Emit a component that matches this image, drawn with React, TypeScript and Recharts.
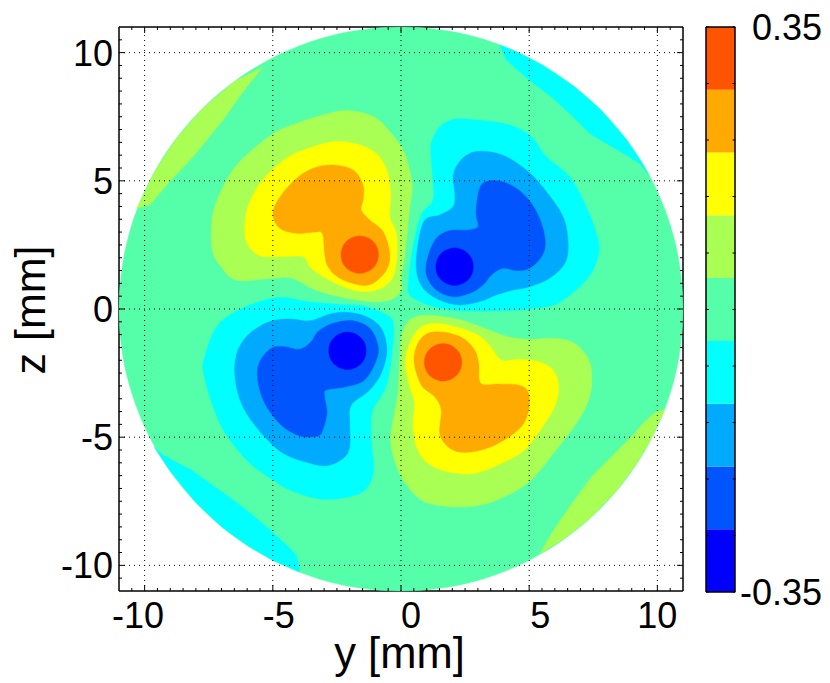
import React from 'react';
import { ComposedChart, ScatterChart, Scatter, XAxis, YAxis, Bar } from 'recharts';

type P = number[];
const c9 = '#FF5500', c8 = '#FFAA00', c7 = '#FFFF00', c6 = '#AAFF55', c5 = '#55FFAA', c4 = '#00FFFF', c3 = '#00AAFF', c2 = '#0055FF', c1 = '#0000FF';

const disc: P[] = [[0,11],[2.85,10.63],[5.5,9.53],[7.78,7.78],[9.53,5.5],[10.63,2.85],[11,0],[10.63,-2.85],[9.53,-5.5],[7.78,-7.78],[5.5,-9.53],[2.85,-10.63],[0,-11],[-2.85,-10.63],[-5.5,-9.53],[-7.78,-7.78],[-9.53,-5.5],[-10.63,-2.85],[-11,0],[-10.63,2.85],[-9.53,5.5],[-7.78,7.78],[-5.5,9.53],[-2.85,10.63]];

const stripUL: P[] = [[-10.3,3.93],[-9.8,4.06],[-9.09,4.9],[-8.11,5.94],[-6.94,7.37],[-6.16,8.48],[-5.38,9.45],[-6.5,8.87],[-7.78,7.78],[-8.8,6.6],[-9.6,5.37]];
const stripUR: P[] = [[3.85,10.3],[4.11,9.71],[4.92,9.0],[5.93,8.22],[6.71,7.5],[7.36,6.85],[8.01,6.46],[8.79,6.01],[9.31,5.68],[9.67,5.24],[9.3,5.85],[8.8,6.6],[7.78,7.78],[6.8,8.64],[5.5,9.52],[4.5,10.03]];
const stripLL: P[] = [[-9.64,-5.37],[-9.28,-5.7],[-8.7,-6.02],[-8.18,-6.28],[-7.46,-6.8],[-6.81,-7.26],[-6.03,-7.84],[-5.25,-8.49],[-4.6,-9.08],[-4.08,-9.6],[-3.95,-10.26],[-5,-9.8],[-6,-9.22],[-7,-8.49],[-8,-7.55],[-9,-6.33]];
const stripLR: P[] = [[10.29,-3.92],[9.96,-4.0],[9.44,-4.46],[8.99,-4.98],[8.27,-5.7],[7.43,-6.54],[6.58,-7.71],[6.13,-8.36],[5.73,-9.01],[5.41,-9.55],[6.4,-8.94],[7.4,-8.13],[8.4,-7.1],[9.2,-6.02],[9.8,-5.0]];

const ulGreen: P[] = [[-7.4,2.82],[-7.34,3.73],[-6.94,4.77],[-6.29,5.75],[-5.06,6.79],[-4.08,7.24],[-2.52,7.7],[-1.74,7.7],[-0.96,7.44],[-0.44,6.92],[0.01,6.33],[0.27,5.68],[0.44,4.77],[0.34,3.99],[0.24,2.95],[0.14,2.04],[0.01,1.26],[0,0.7],[-0.44,0.35],[-1.22,0.29],[-2.43,0.48],[-3.34,0.74],[-4.25,1.2],[-5,1.2],[-6.43,1.13],[-7.07,1.72],[-7.33,2.17]];
const ulYellow: P[] = [[-6.1,3.08],[-5.97,3.99],[-5.45,4.97],[-4.47,5.88],[-3.43,6.33],[-2.52,6.53],[-1.61,6.4],[-0.9,6.01],[-0.51,5.29],[-0.4,4.38],[-0.44,3.6],[-0.18,2.95],[-0.16,2.04],[-0.31,1.26],[-0.77,0.81],[-1.48,0.68],[-2.26,0.87],[-3.04,1.26],[-3.56,1.65],[-3.82,2.04],[-4.73,2.04],[-5.52,2.08],[-5.97,2.5]];
const ulOrange: P[] = [[-4.99,3.67],[-4.8,4.25],[-4.15,5.03],[-3.43,5.49],[-2.65,5.62],[-1.87,5.42],[-1.48,4.84],[-1.48,4.25],[-1.55,3.86],[-1.22,3.47],[-0.7,3.02],[-0.44,2.17],[-0.57,1.52],[-1.09,1.0],[-1.61,0.94],[-2.39,1.2],[-2.85,1.65],[-2.98,2.17],[-3.07,2.95],[-3.43,2.99],[-4.08,2.95],[-4.73,3.15]];
const ulRed: P[] = [[-1.61,2.85],[-1.24,2.75],[-0.97,2.48],[-0.88,2.12],[-0.97,1.76],[-1.24,1.49],[-1.61,1.39],[-1.98,1.49],[-2.25,1.76],[-2.34,2.12],[-2.25,2.48],[-1.98,2.75]];

const urCyan: P[] = [[1.18,6.46],[1.51,7.11],[2.09,7.4],[2.94,7.37],[4.24,7.18],[5.09,6.72],[5.67,5.94],[6.58,5.16],[7.23,3.99],[7.62,2.95],[7.73,2.3],[7.49,1.52],[6.97,0.87],[6.06,0.2],[5.02,0],[3.85,-0.07],[2.55,-0.07],[1.51,0.03],[0.73,0.29],[0.31,0.61],[0.31,1.26],[0.47,2.43],[0.79,3.67],[1.18,4.12],[1.28,4.51],[1.22,5.29],[1.18,5.94]];
const urLight: P[] = [[2.03,5.16],[2.23,5.68],[2.68,6.07],[3.33,6.14],[4.11,5.94],[4.96,5.36],[5.62,4.64],[6.32,3.6],[6.52,2.56],[6.39,1.78],[5.8,1.2],[5.02,0.87],[4.37,0.74],[3.72,0.55],[3.07,0.29],[2.29,0.16],[1.51,0.35],[0.86,0.81],[0.6,1.52],[0.67,2.56],[0.93,3.47],[1.51,3.67],[2.03,3.99],[2.1,4.51]];
const urBlue: P[] = [[2.94,3.99],[3.07,4.71],[3.33,4.97],[3.85,4.99],[4.5,4.71],[5.09,4.12],[5.48,3.34],[5.63,2.56],[5.48,2.04],[5.02,1.59],[4.5,1.5],[3.98,1.59],[3.53,1.33],[3.2,0.94],[2.68,0.61],[2.03,0.48],[1.38,0.74],[0.99,1.33],[1.05,2.04],[1.38,2.76],[1.9,3.06],[2.62,3.08],[3.0,3.21],[2.94,3.6]];
const urDark: P[] = [[2.09,2.38],[2.46,2.28],[2.73,2.01],[2.82,1.65],[2.73,1.29],[2.46,1.02],[2.09,0.92],[1.72,1.02],[1.45,1.29],[1.36,1.65],[1.45,2.01],[1.72,2.28]];

const llCyan: P[] = [[-7.72,-2.38],[-7.66,-1.86],[-7.27,-0.82],[-6.68,-0.23],[-5.51,0.29],[-4.6,0.45],[-3.69,0.29],[-2.39,0.18],[-1.35,0.09],[-0.44,-0.3],[-0.29,-0.75],[-0.31,-1.34],[-0.44,-2.38],[-0.64,-3.16],[-1.12,-4.01],[-1.16,-5.11],[-1.07,-6.28],[-1.35,-7.0],[-2.0,-7.32],[-3.17,-7.41],[-4.34,-7.06],[-4.99,-6.67],[-5.9,-6.02],[-6.62,-5.18],[-7.07,-4.46],[-7.46,-3.42]];
const llLight: P[] = [[-6.49,-2.38],[-6.36,-1.6],[-5.9,-0.95],[-5.12,-0.49],[-4.34,-0.39],[-3.56,-0.46],[-2.78,-0.2],[-2.13,-0.13],[-1.35,-0.3],[-0.77,-0.75],[-0.55,-1.6],[-0.77,-2.51],[-1.22,-3.16],[-1.94,-3.75],[-2.0,-4.46],[-2.0,-5.37],[-2.26,-5.83],[-2.91,-6.11],[-3.69,-5.98],[-4.6,-5.63],[-5.38,-4.92],[-6.03,-4.07],[-6.36,-3.29]];
const llBlue: P[] = [[-5.6,-2.64],[-5.51,-2.05],[-5.06,-1.53],[-4.54,-1.47],[-3.95,-1.57],[-3.5,-1.27],[-3.24,-0.88],[-2.65,-0.56],[-1.87,-0.46],[-1.22,-0.75],[-0.9,-1.4],[-0.96,-1.99],[-1.42,-2.77],[-2.13,-3.03],[-2.91,-3.16],[-2.98,-3.42],[-2.89,-4.07],[-3.11,-4.85],[-3.43,-4.98],[-3.95,-4.95],[-4.6,-4.59],[-5.12,-4.0],[-5.45,-3.35]];
const llDark: P[] = [[-2.09,-0.9],[-1.72,-1.0],[-1.45,-1.27],[-1.36,-1.63],[-1.45,-1.99],[-1.72,-2.26],[-2.09,-2.36],[-2.46,-2.26],[-2.73,-1.99],[-2.82,-1.63],[-2.73,-1.27],[-2.46,-1.0]];

const lrGreen: P[] = [[0.27,-0.49],[0.73,-0.27],[1.44,-0.27],[2.35,-0.43],[3.26,-0.75],[4.17,-1.08],[5.02,-1.18],[5.86,-1.14],[6.64,-1.27],[7.17,-1.73],[7.43,-2.38],[7.36,-3.42],[6.84,-4.46],[5.99,-5.57],[5.08,-6.67],[4.17,-7.26],[3.13,-7.65],[1.96,-7.71],[0.92,-7.52],[0.27,-6.93],[-0.12,-6.28],[-0.4,-5.24],[-0.31,-4.33],[-0.12,-3.29],[-0.05,-1.99],[0.01,-1.08]];
const lrYellow: P[] = [[0.17,-2.12],[0.34,-1.34],[0.73,-0.75],[1.31,-0.56],[2.09,-0.69],[2.87,-0.95],[3.39,-1.34],[3.91,-1.99],[4.56,-1.96],[5.34,-2.05],[5.93,-2.38],[6.15,-3.03],[5.99,-3.81],[5.47,-4.66],[4.82,-5.5],[3.91,-6.02],[2.87,-6.41],[1.83,-6.35],[1.05,-6.02],[0.6,-5.37],[0.47,-4.46],[0.53,-3.68],[0.34,-3.03]];
const lrOrange: P[] = [[0.51,-2.05],[0.66,-1.34],[1.05,-0.95],[1.7,-0.91],[2.42,-1.14],[2.87,-1.6],[3.03,-2.12],[3.11,-2.9],[3.78,-2.93],[4.56,-2.96],[4.95,-3.22],[4.98,-3.94],[4.69,-4.59],[3.91,-5.18],[3.13,-5.5],[2.35,-5.59],[1.83,-5.37],[1.51,-4.85],[1.57,-3.94],[1.31,-3.42],[0.79,-2.96]];
const lrRed: P[] = [[1.64,-1.35],[2.01,-1.45],[2.28,-1.72],[2.37,-2.08],[2.28,-2.44],[2.01,-2.71],[1.64,-2.81],[1.27,-2.71],[1.0,-2.44],[0.91,-2.08],[1.0,-1.72],[1.27,-1.45]];

const regions: [P[], string, boolean][] = [
  [disc, c5, true],
  [stripUL, c6, false], [stripUR, c4, false], [stripLL, c4, false], [stripLR, c6, false],
  [ulGreen, c6, true], [ulYellow, c7, true], [ulOrange, c8, true], [ulRed, c9, true],
  [urCyan, c4, true], [urLight, c3, true], [urBlue, c2, true], [urDark, c1, true],
  [llCyan, c4, true], [llLight, c3, true], [llBlue, c2, true], [llDark, c1, true],
  [lrGreen, c6, true], [lrYellow, c7, true], [lrOrange, c8, true], [lrRed, c9, true],
];

const axisLimit = 11;
const majorTicks = [-10, -5, 0, 5, 10];
const allTicks = [-10.5,-10,-9.5,-9,-8.5,-8,-7.5,-7,-6.5,-6,-5.5,-5,-4.5,-4,-3.5,-3,-2.5,-2,-1.5,-1,-0.5,0,0.5,1,1.5,2,2.5,3,3.5,4,4.5,5,5.5,6,6.5,7,7.5,8,8.5,9,9.5,10,10.5];
const bandColors = [c1, c2, c3, c4, c5, c6, c7, c8, c9];
const barTicks = [0, 0.07, 0.14, 0.21, 0.28, 0.35, 0.42, 0.49, 0.56, 0.63, 0.7];
const barRow: Record<string, number | string> = { name: 'scale' };
bandColors.forEach((_, i) => { barRow['b' + i] = 0.7 / 9; });

const FONT = '"Liberation Sans", Arial, sans-serif';
const FS = 36;
const xLabelShift: Record<number, number> = { [-10]: -6.5, [-5]: 6, 0: 10, 5: 11, 10: 0 };

function smoothPath(pts: { x: number; y: number }[], smooth: boolean) {
  const n = pts.length;
  if (!n) return '';
  let d = `M${pts[0].x},${pts[0].y}`;
  for (let i = 0; i < n; i++) {
    const p0 = pts[(i - 1 + n) % n], p1 = pts[i], p2 = pts[(i + 1) % n], p3 = pts[(i + 2) % n];
    if (!smooth) { d += `L${p2.x},${p2.y}`; continue; }
    d += `C${p1.x + (p2.x - p0.x) / 6},${p1.y + (p2.y - p0.y) / 6} ${p2.x - (p3.x - p1.x) / 6},${p2.y - (p3.y - p1.y) / 6} ${p2.x},${p2.y}`;
  }
  return d + 'Z';
}

const isMajor = (v: number) => majorTicks.includes(v);

const bottomTick = (p: any) => {
  const m = isMajor(p.payload.value);
  return <g>
    <line x1={p.x} x2={p.x} y1={p.y} y2={p.y - (m ? 6 : 3)} stroke="#000" strokeWidth={1} />
    {m && <text x={p.x + xLabelShift[p.payload.value]} y={p.y + 37} textAnchor="middle" fontFamily={FONT} fontSize={FS} fill="#000">{p.payload.value}</text>}
  </g>;
};
const topTick = (p: any) => <line x1={p.x} x2={p.x} y1={p.y} y2={p.y + (isMajor(p.payload.value) ? 6 : 3)} stroke="#000" strokeWidth={1} />;
const leftTick = (p: any) => {
  const m = isMajor(p.payload.value);
  return <g>
    <line x1={p.x} x2={p.x + (m ? 6 : 3)} y1={p.y} y2={p.y} stroke="#000" strokeWidth={1} />
    {m && <text x={p.x - 6} y={p.y + 13} textAnchor="end" fontFamily={FONT} fontSize={FS} fill="#000">{p.payload.value}</text>}
  </g>;
};
const rightTick = (p: any) => <line x1={p.x} x2={p.x - (isMajor(p.payload.value) ? 6 : 3)} y1={p.y} y2={p.y} stroke="#000" strokeWidth={1} />;

const barTick = (p: any) => {
  const v = p.payload.value;
  const end = v === barTicks[0] || v === barTicks[barTicks.length - 1];
  return <g>
    <line x1={p.x} x2={p.x + 3} y1={p.y} y2={p.y} stroke="#000" />
    <line x1={p.x + 29.5} x2={p.x + 26.5} y1={p.y} y2={p.y} stroke="#000" />
    {end && <text x={822} y={p.y + 13} textAnchor="end" fontFamily={FONT} fontSize={FS} fill="#000">{(v - 0.35).toFixed(2)}</text>}
  </g>;
};

const lineFor = (color: string, smooth: boolean) => (props: any) => (
  <path key={props.key} d={smoothPath(props.points || [], smooth)} fill={color} stroke={color} strokeWidth={0.4} />
);
const gridLine = (props: any) => {
  const pts = props.points || [];
  if (pts.length < 2) return <g key={props.key} />;
  return <line key={props.key} x1={pts[0].x} y1={pts[0].y} x2={pts[1].x} y2={pts[1].y} stroke="#000" strokeWidth={1} strokeDasharray="1 4" />;
};
const noDot = () => <g />;

const axisLine = { stroke: '#000', strokeWidth: 1.5 };

export default function App() {
  return (
    <div style={{ position: 'absolute', left: 0, top: 0, width: 830, height: 683, background: '#fff', fontFamily: FONT }}>
      <div style={{ position: 'absolute', left: 0, top: 0 }}>
        <ScatterChart width={830} height={683} margin={{ left: 118, top: 26, right: 146, bottom: 91 }}>
          <XAxis xAxisId="b" type="number" dataKey="x" domain={[-axisLimit, axisLimit]} ticks={allTicks} interval={0} height={1} tickSize={0} tickMargin={0} tickLine={false} tick={bottomTick} axisLine={axisLine} />
          <XAxis xAxisId="t" orientation="top" type="number" dataKey="x" domain={[-axisLimit, axisLimit]} ticks={allTicks} interval={0} height={1} tickSize={0} tickMargin={0} tickLine={false} tick={topTick} axisLine={axisLine} />
          <YAxis yAxisId="l" type="number" dataKey="y" domain={[-axisLimit, axisLimit]} ticks={allTicks} interval={0} width={1} tickSize={0} tickMargin={0} tickLine={false} tick={leftTick} axisLine={axisLine} />
          <YAxis yAxisId="r" orientation="right" type="number" dataKey="y" domain={[-axisLimit, axisLimit]} ticks={allTicks} interval={0} width={1} tickSize={0} tickMargin={0} tickLine={false} tick={rightTick} axisLine={axisLine} />
          {regions.map(([pts, color, smooth], i) => (
            <Scatter key={i} xAxisId="b" yAxisId="l" data={pts.map(([x, y]) => ({ x, y }))} isAnimationActive={false} shape={noDot} line={lineFor(color, smooth)} lineType="joint" />
          ))}
          {majorTicks.map((v) => (
            <Scatter key={'v' + v} xAxisId="b" yAxisId="l" data={[{ x: v, y: -axisLimit }, { x: v, y: axisLimit }]} isAnimationActive={false} shape={noDot} line={gridLine} lineType="joint" />
          ))}
          {majorTicks.map((v) => (
            <Scatter key={'h' + v} xAxisId="t" yAxisId="r" data={[{ x: -axisLimit, y: v }, { x: axisLimit, y: v }]} isAnimationActive={false} shape={noDot} line={gridLine} lineType="joint" />
          ))}
        </ScatterChart>
      </div>
      <div style={{ position: 'absolute', left: 0, top: 0 }}>
        <ComposedChart width={830} height={683} data={[barRow]} barCategoryGap={0} margin={{ left: 705, top: 26, right: 94, bottom: 90 }}>
          <XAxis dataKey="name" height={1} tick={false} tickLine={false} axisLine={axisLine} />
          <XAxis xAxisId="t" dataKey="name" orientation="top" height={1} tick={false} tickLine={false} axisLine={axisLine} />
          <YAxis yAxisId="l" type="number" domain={[0, 0.7]} ticks={barTicks} interval={0} width={1} tickSize={0} tickMargin={0} tickLine={false} tick={barTick} axisLine={axisLine} />
          <YAxis yAxisId="r" orientation="right" type="number" domain={[0, 0.7]} width={1} tick={false} tickLine={false} axisLine={axisLine} />
          {bandColors.map((color, i) => (
            <Bar key={color} yAxisId="l" dataKey={'b' + i} stackId="scale" fill={color} isAnimationActive={false} />
          ))}
        </ComposedChart>
      </div>
      <svg width={830} height={683} style={{ position: 'absolute', left: 0, top: 0, pointerEvents: 'none' }}>
        <text x={399.5} y={668} textAnchor="middle" fontFamily={FONT} fontSize={43.5} fill="#000">y [mm]</text>
        <text transform="translate(45,310) rotate(-90)" textAnchor="middle" fontFamily={FONT} fontSize={43} fill="#000">z [mm]</text>
      </svg>
    </div>
  );
}
